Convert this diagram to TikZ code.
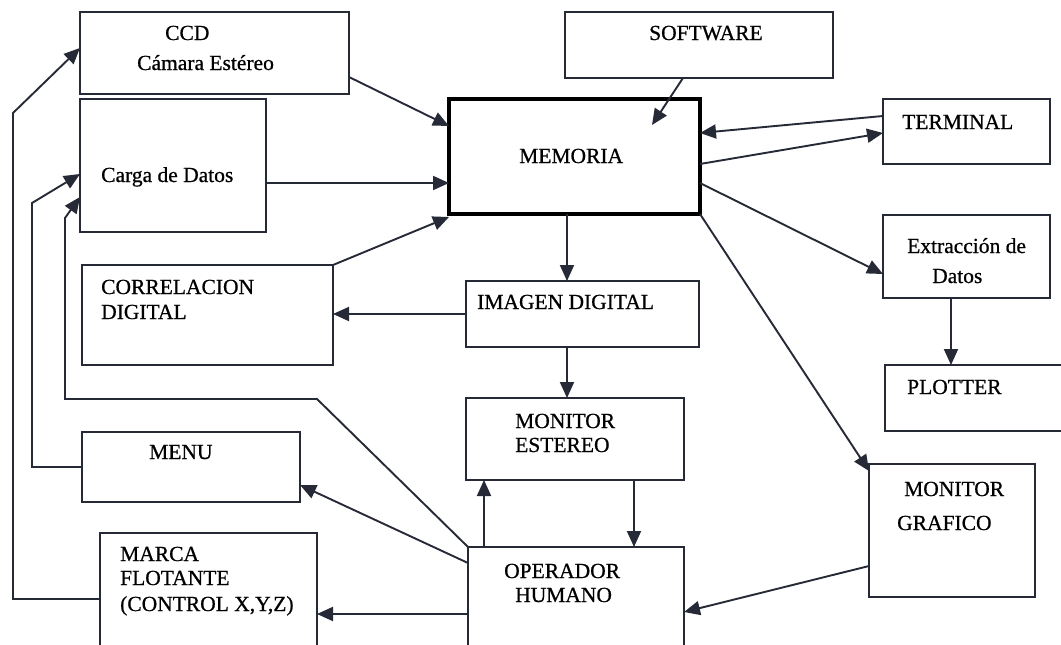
\documentclass[tikz,border=0pt]{standalone}
\usepackage{fontspec}
\setmainfont{Liberation Serif}
\newfontfamily\boxfont[FakeBold=0.7]{Liberation Serif}
\usetikzlibrary{arrows.meta,calc}
\definecolor{ink}{RGB}{38,42,54}
\begin{document}
\begin{tikzpicture}[x=1pt,y=-1pt,
  box/.style={draw=ink,line width=2pt,inner sep=0pt,outer sep=0pt,anchor=north west},
  txt/.style={anchor=base west,inner sep=0pt,font=\boxfont\fontsize{21.5}{24}\selectfont,text=black},
  conn/.style={draw=ink,line width=1.9pt},
  arr/.style={conn,-{Triangle[length=16pt,width=14pt]}},
]
\fill[white] (0,0) rectangle (1061,645);
\useasboundingbox (0,0) rectangle (1061,645);
\clip (0,0) rectangle (1061,645);

% boxes
\node[box,minimum width=269,minimum height=82]  (ccd)      at (80,12)  {};
\node[box,minimum width=186,minimum height=133] (carga)    at (80,99)  {};
\node[box,minimum width=268,minimum height=66]  (software) at (565,12) {};
\node[box,draw=black,line width=4.5pt,minimum width=251,minimum height=115] (memoria) at (449,99) {};
\node[box,minimum width=167,minimum height=65]  (terminal) at (883,99) {};
\node[box,minimum width=167,minimum height=83]  (extr)     at (883,215) {};
\node[box,minimum width=251,minimum height=100] (corr)     at (82,265) {};
\node[box,minimum width=233,minimum height=66]  (imagen)   at (466,281) {};
\node[box,minimum width=200,minimum height=66]  (plotter)  at (885,365) {};
\node[box,minimum width=218,minimum height=70]  (menu)     at (82,432) {};
\node[box,minimum width=218,minimum height=82]  (monest)   at (466,398) {};
\node[box,minimum width=166,minimum height=133] (mongraf)  at (869,464) {};
\node[box,minimum width=217,minimum height=140] (marca)    at (100,533) {};
\node[box,minimum width=216,minimum height=140] (operador) at (468,547) {};

% labels
\node[txt] (tccd)   at (165,40)  {CCD};
\node[txt] (tcam)   at (137,70)  {Cámara Estéreo};
\node[txt] (tcarga) at (101,182) {Carga de Datos};
\node[txt] (tsoft)  at (649,40)  {SOFTWARE};
\node[txt] (tmem)   at (519,163) {MEMORIA};
\node[txt] (tterm)  at (902,129) {TERMINAL};
\node[txt] (text1)  at (907,253) {Extracción de};
\node[txt] (text2)  at (932,283) {Datos};
\node[txt] (tcorr1) at (101,294) {CORRELACION};
\node[txt] (tcorr2) at (101,319) {DIGITAL};
\node[txt] (timg)   at (477,309) {IMAGEN DIGITAL};
\node[txt] (tplot)  at (907,394) {PLOTTER};
\node[txt] (tmenu)  at (149,459) {MENU};
\node[txt] (tmon1)  at (515,428) {MONITOR};
\node[txt] (tmon2)  at (515,452) {ESTEREO};
\node[txt] (tgraf1) at (904,496) {MONITOR};
\node[txt] (tgraf2) at (897,530) {GRAFICO};
\node[txt] (tmar1)  at (120,561) {MARCA};
\node[txt] (tmar2)  at (120,585) {FLOTANTE};
\node[txt] (tmar3)  at (120,611) {(CONTROL X,Y,Z)};
\node[txt] (top1)   at (504,578) {OPERADOR};
\node[txt] (top2)   at (515,602) {HUMANO};

% helper points
\coordinate (swtip) at ($(memoria.north west)+(203,26)$);
\coordinate (xmem)  at ($(memoria.south west)+(118,0)$);
\coordinate (xext)  at ($(extr.south west)+(68,0)$);
\coordinate (xup)   at ($(operador.north west)+(16,0)$);
\coordinate (xdn)   at ($(operador.north west)+(166,0)$);
\coordinate (ymar)  at ($(operador.north west)+(0,67)$);
\coordinate (bendA) at (317,399);
\coordinate (bendB) at (65,399);
\coordinate (bendC) at (65,218);
\coordinate (bendD) at (13,113);
\coordinate (bendE) at (32,203);
\coordinate (bendF) at (13,599);
\coordinate (bendG) at (32,467);

% connectors into MEMORIA
\draw[arr] ($(ccd.north east)+(0,65)$) -- ($(memoria.north west)+(0,27)$);
\draw[arr] ($(carga.north east)+(0,84)$) -- ($(memoria.north west)+(0,84)$);
\draw[arr] (corr.north east) -- ($(memoria.south west)+(0,3)$);
\draw[arr] ($(software.south west)+(118,0)$) -- (swtip);
\draw[arr] ($(terminal.north west)+(0,17)$) -- ($(memoria.north east)+(0,34)$);

% connectors out of MEMORIA
\draw[arr] ($(memoria.north east)+(0,65)$) -- ($(terminal.north west)+(0,34)$);
\draw[arr] ($(memoria.north east)+(0,84)$) -- ($(extr.north west)+(0,59)$);
\draw[arr] (memoria.south east) -- ($(mongraf.north west)+(0,7)$);
\draw[arr] (xmem) -- (xmem |- imagen.north);

% chain in the middle column
\draw[arr] (imagen.west) -- (imagen.west -| corr.east);
\draw[arr] (xmem |- imagen.south) -- (xmem |- monest.north);
\draw[arr] (xdn |- monest.south) -- (xdn);
\draw[arr] (xup) -- (xup |- monest.south);
\draw[arr] (xext) -- (xext |- plotter.north);
\draw[arr] ($(mongraf.north west)+(0,102)$) -- ($(operador.north east)+(0,65)$);

% OPERADOR to the left-hand boxes
\draw[arr] ($(operador.north west)+(0,16)$) -- ($(menu.north east)+(0,53)$);
\draw[arr] (ymar) -- (ymar -| marca.east);
\draw[arr] (operador.north west) -- (bendA) -- (bendB) -- (bendC) -- ($(carga.north west)+(0,98)$);

% feedback lines on the far left
\draw[arr] ($(marca.north west)+(0,66)$) -- (bendF) -- (bendD) -- ($(ccd.north west)+(0,36)$);
\draw[arr] (menu.west) -- (bendG) -- (bendE) -- ($(carga.north west)+(0,75)$);
\end{tikzpicture}
\end{document}
